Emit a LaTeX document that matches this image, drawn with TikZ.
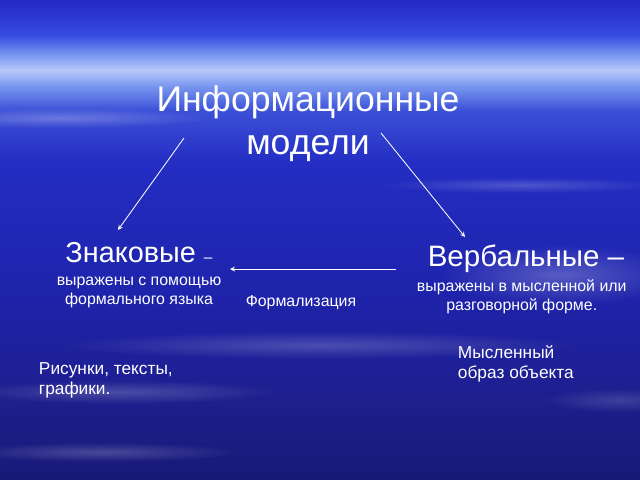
\documentclass[tikz,border=0pt]{standalone}
\usepackage{fontspec}
\setmainfont{Liberation Sans}
\usetikzlibrary{arrows,positioning,fadings}

\definecolor{skyA}{RGB}{25,25,120}
\definecolor{skyB}{RGB}{30,30,140}
\definecolor{skyC}{RGB}{30,35,170}
\definecolor{skyD}{RGB}{35,45,195}
\definecolor{skyE}{RGB}{60,80,215}
\definecolor{skyF}{RGB}{120,150,240}
\definecolor{skyG}{RGB}{185,200,250}
\definecolor{skyH}{RGB}{55,75,225}
\definecolor{skyI}{RGB}{35,40,195}
\pgfdeclareverticalshading{sky}{100bp}{color(0bp)=(skyA); color(25bp)=(skyA);
  color(33bp)=(skyB); color(44bp)=(skyC); color(58bp)=(skyD); color(63.5bp)=(skyE);
  color(66bp)=(skyF); color(67.7bp)=(skyG); color(69.3bp)=(skyF); color(71.3bp)=(skyH);
  color(75bp)=(skyI); color(100bp)=(skyI)}
\tikzfading[name=fuzzy, inner color=transparent!0, outer color=transparent!100]

\begin{document}
\begin{tikzpicture}[x=0.025cm,y=-0.025cm,
    head node/.style={text=white,font=\fontsize{20.5}{24}\selectfont},
    sub node/.style={text=white,align=center,font=\fontsize{11.3}{13.5}\selectfont},
    note node/.style={text=white,align=left,font=\fontsize{12.3}{14.2}\selectfont},
    link/.style={white,line width=0.6pt,-stealth},
    cloud/.style={white,path fading=fuzzy}]
        %background
          \shade[shading=sky] (0,0) rectangle (640,480);
          \useasboundingbox (0,0) rectangle (640,480);
          \fill[cloud,opacity=0.25] (60,118) ellipse (150 and 10);
          \fill[cloud,opacity=0.2] (520,185) ellipse (140 and 8);
          \fill[cloud,opacity=0.25] (560,275) ellipse (120 and 30);
          \fill[cloud,opacity=0.2] (320,345) ellipse (260 and 14);
          \fill[cloud,opacity=0.2] (120,392) ellipse (160 and 12);
          \fill[cloud,opacity=0.2] (100,452) ellipse (140 and 10);
          \fill[cloud,opacity=0.15] (620,400) ellipse (80 and 12);
        %nodes
          \node[text=white,align=center,font=\fontsize{25.3}{30.6}\selectfont] (title) at (308,124) {Информационные\\модели};
          \node[head node] (zn) at (139,253) {Знаковые {\fontsize{11}{13}\selectfont–}};
          \node[sub node,below=3pt of zn] (zndesc) {выражены с помощью\\формального языка};
          \node[head node,font=\fontsize{21}{25}\selectfont] (verb) at (526,259) {Вербальные –};
          \node[sub node,below=-2pt of verb,xshift=-3pt] (verbdesc) {выражены в мысленной или\\разговорной форме.};
          \node[sub node] (form) at (301,303) {Формализация};
          \node[note node,anchor=west] (mind) at (453,364) {Мысленный\\образ объекта};
          \node[note node,anchor=west] (pics) at (34,380) {Рисунки, тексты,\\графики.};
          \coordinate (tl) at (184,138);
          \coordinate (tr) at (381,133);
          \coordinate (zin) at (118,230);
          \coordinate (vin) at (465,237);
          \coordinate (fs) at (396,269);
          \coordinate (fe) at (230,269);
        %Edges
          \path (tl) edge [link] (zin);
          \path (tr) edge [link] (vin);
          \path (fs) edge [link] (fe);
\end{tikzpicture}
\end{document}
